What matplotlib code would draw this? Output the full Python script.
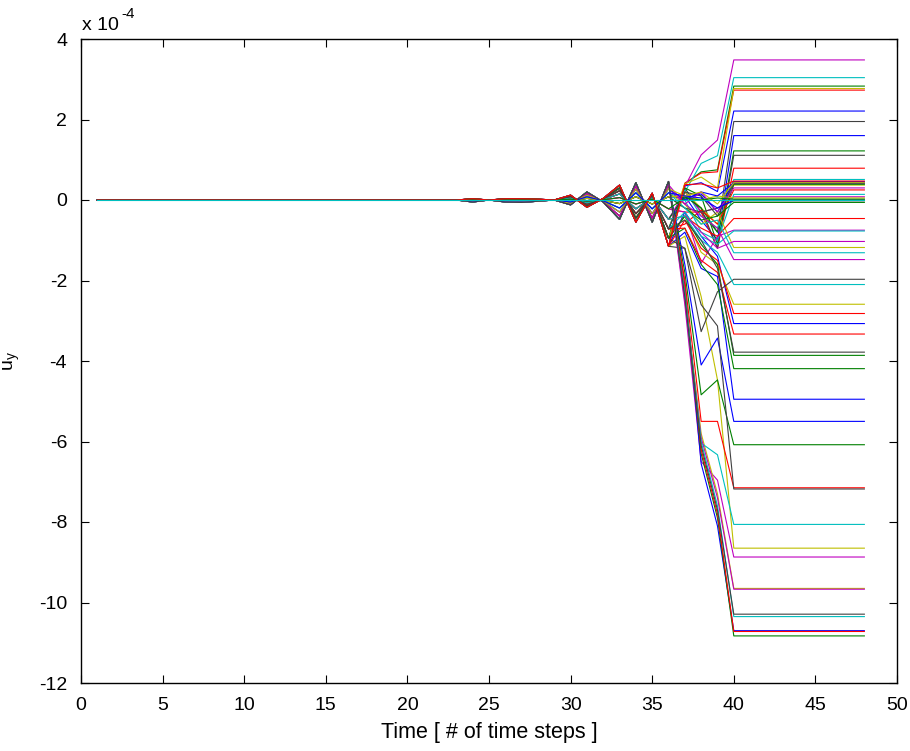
import matplotlib
matplotlib.use("Agg")
import matplotlib.pyplot as plt
from cycler import cycler

plt.rcParams['font.family'] = ['Liberation Sans', 'DejaVu Sans']
plt.rcParams['mathtext.default'] = 'regular'

# ---------------- data (u_y in units of 1e-4) ----------------
time_steps = list(range(1, 49))

# quiet period t = 1..22
quiet_uy = [0.0] * 22

# oscillation rows for t = 23..36 (two groups in antiphase)
osc_a1 = [0, 0.03, 0, 0.03, 0.03, 0.02, 0, 0.12, -0.18, 0.04, 0.37, -0.55, 0.17, -1.15]
osc_a2 = [0, 0.025, 0, 0.025, 0.025, 0.015, 0, 0.10, -0.15, 0.03, 0.30, -0.45, 0.14, -0.95]
osc_a3 = [0, 0.02, 0, 0.02, 0.02, 0.01, 0, 0.08, -0.11, 0.025, 0.23, -0.34, 0.10, -0.72]
osc_a4 = [0, 0.01, 0, 0.015, 0.015, 0.01, 0, 0.05, -0.07, 0.015, 0.15, -0.22, 0.06, -0.48]
osc_a5 = [0, 0.005, 0, 0.005, 0.005, 0, 0, 0.02, -0.03, 0.005, 0.06, -0.10, 0.02, -0.22]
osc_b1 = [0, -0.05, 0, -0.05, -0.06, -0.03, 0, -0.12, 0.20, -0.05, -0.48, 0.43, -0.55, 0.46]
osc_b2 = [0, -0.04, 0, -0.04, -0.05, -0.025, 0, -0.10, 0.16, -0.04, -0.40, 0.35, -0.45, 0.38]
osc_b3 = [0, -0.03, 0, -0.03, -0.04, -0.02, 0, -0.08, 0.12, -0.03, -0.30, 0.27, -0.34, 0.28]
osc_b4 = [0, -0.02, 0, -0.02, -0.025, -0.01, 0, -0.05, 0.08, -0.02, -0.20, 0.18, -0.22, 0.18]
osc_b5 = [0, -0.01, 0, -0.01, -0.01, 0, 0, -0.02, 0.04, -0.01, -0.09, 0.08, -0.10, 0.08]
osc_z = [0.0] * 14
osc_rows = [osc_a1, osc_a2, osc_a3, osc_a4, osc_a5,
            osc_b1, osc_b2, osc_b3, osc_b4, osc_b5, osc_z]

# which oscillation row each line follows (60 lines, in plotting order)
osc_group = [
    1, 0, 0, 1, 0, 2, 2,
    3, 1, 4, 2, 3, 1, 9,
    9, 3, 2, 8, 4, 8, 2,
    0, 9, 3, 2, 1, 1, 9,
    0, 1, 0, 8, 7, 0, 0,
    6, 1, 2, 3, 5, 5, 2,
    5, 6, 6, 5, 5, 9, 1,
    7, 5, 5, 5, 6, 7, 5,
    8, 4, 0, 10,
]

uy_t37 = [
    0.35, 0.40, 0.42, 0.20, 0.33, 0.40, 0.30,
    0.10, 0.30, -0.30, 0.25, 0.20, 0.20, 0.10,
    0.05, 0.10, -0.60, 0.00, -0.30, -0.10, 0.20,
    -0.30, -0.20, -0.40, -0.30, -0.40, -0.40, -0.20,
    -0.80, -0.40, -0.50, -0.20, -0.10, -0.90, -1.20,
    -1.60, -0.70, -0.70, -0.40, -2.60, -2.40, -0.50,
    -2.10, -1.80, -2.00, -2.30, -2.50, 0.10, -1.20,
    0.00, -2.30, -2.20, -2.30, -0.10, 0.10, -2.40,
    0.10, 0.05, 0.38, 0.00,
]

uy_t38 = [
    0.43, 0.70, 0.67, 0.91, 1.12, 0.57, -0.30,
    -0.50, 0.10, -0.30, -0.40, -0.30, -0.20, -0.20,
    0.15, -0.20, -0.25, -0.80, -1.57, -0.60, 0.10,
    -0.90, -0.50, -0.70, -0.90, -0.80, -1.30, -0.30,
    -1.70, -1.10, -1.20, -0.60, -0.40, -2.40, -3.27,
    -4.10, -1.60, -1.50, -1.00, -6.50, -5.80, -1.00,
    -6.55, -4.84, -5.50, -6.04, -5.90, 0.00, -2.60,
    0.20, -6.30, -6.20, -6.00, 0.20, 0.20, -6.10,
    0.05, 0.00, 0.40, 0.00,
]

uy_t39 = [
    0.21, 0.75, 0.70, 1.10, 1.49, 0.30, -0.80,
    -1.00, -1.10, -1.20, -0.70, -0.20, -0.60, -1.20,
    -0.30, -0.80, -0.60, -1.00, -0.90, -0.30, -0.40,
    -1.40, -0.40, -0.90, -1.10, -1.20, -1.60, -0.20,
    -1.90, -1.60, -1.50, -0.50, -0.70, -4.47, -2.28,
    -3.43, -2.10, -1.80, -1.30, -6.96, -7.30, -1.70,
    -8.10, -4.47, -5.50, -6.33, -7.40, 0.10, -3.13,
    0.10, -7.90, -7.80, -7.60, -0.30, -0.10, -7.70,
    -0.20, 0.05, 0.30, 0.00,
]

# final (settled) value, reached at t = 40 and held to t = 48
final_uy = [
    2.21, 2.83, 2.73, 3.04, 3.48, 2.77, 1.95,
    1.60, 1.22, 0.79, 0.51, 0.08, 0.37, 1.11,
    0.46, 0.39, 0.25, 0.14, -0.75, -1.18, 0.41,
    -3.07, -0.06, -0.46, -0.77, -1.03, -2.59, -0.02,
    -4.95, -3.86, -2.82, -1.31, -1.48, -8.65, -1.97,
    -5.50, -4.19, -3.33, -2.10, -8.87, -9.65, -3.78,
    -10.70, -6.08, -7.15, -8.06, -9.67, 0.05, -7.18,
    0.43, -10.83, -10.72, -10.35, 0.30, 0.43, -10.29,
    0.00, 0.02, 0.47, 0.00,
]

x_ticks = [0, 5, 10, 15, 20, 25, 30, 35, 40, 45, 50]
y_ticks = [-12, -10, -8, -6, -4, -2, 0, 2, 4]

# ---------------- style ----------------
matlab_colors = [(0, 0, 1), (0, 0.5, 0), (1, 0, 0), (0, 0.75, 0.75),
                 (0.75, 0, 0.75), (0.75, 0.75, 0), (0.25, 0.25, 0.25)]

fig = plt.figure(figsize=(9.10, 7.51), dpi=100)
ax = fig.add_axes([81 / 910, 68 / 751, 816 / 910, 644 / 751])
ax.set_prop_cycle(cycler(color=matlab_colors))

n_hold = len(time_steps) - 22 - 14 - 4
for i in range(len(final_uy)):
    series = (quiet_uy + osc_rows[osc_group[i]]
              + [uy_t37[i], uy_t38[i], uy_t39[i], final_uy[i]]
              + [final_uy[i]] * n_hold)
    ax.plot(time_steps, series, lw=0.8)

ax.set_xlim(0, 50)
ax.set_ylim(-12, 4)
ax.set_xticks(x_ticks)
ax.set_yticks(y_ticks)
ax.set_xticklabels([str(v) for v in x_ticks])
ax.set_yticklabels([str(v) for v in y_ticks])
ax.tick_params(direction='in', length=6, width=0.8, top=True, right=True,
               labelsize=14, colors='black')
ax.tick_params(axis='x', pad=10)
ax.tick_params(axis='y', pad=10)
for s in ax.spines.values():
    s.set_linewidth(1.0)

ax.set_xlabel('Time [ # of time steps ]', fontsize=15.5, labelpad=6)
ax.set_ylabel('u$_y$', fontsize=14, labelpad=12)

fig.text(82 / 910, 1 - 25 / 751, 'x 10', fontsize=14, va='center', ha='left')
fig.text(121 / 910, 1 - 14 / 751, '-4', fontsize=11, va='center', ha='left')

fig.savefig('out.png', dpi=100)
